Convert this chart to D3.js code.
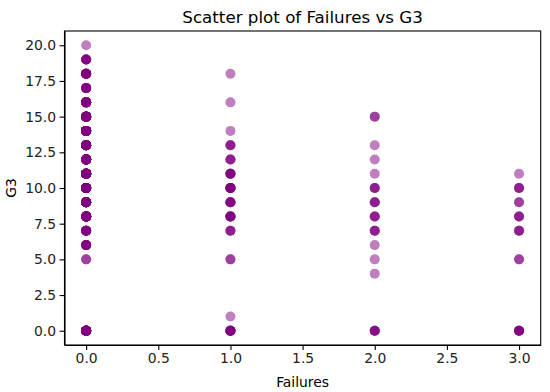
<head>
	<script src="https://d3js.org/d3.v7.min.js"></script>
	<style type="text/css">
		body { margin: 0; background: white; }
		text { font-family: "DejaVu Sans", sans-serif; fill: black; }
		.axis path, .axis line { stroke: black; stroke-width: 1.1; }
		.axis text { font-size: 13.9px; font-family: "DejaVu Sans", sans-serif; fill: #222; }
	</style>
</head>
<body>
	<script type="text/javascript">
		// G3 grades seen for each failures count, with how many students sit on each spot
		const failures = [0, 1, 2, 3]
		const g3Fail0 = [0, 5, 6, 7, 8, 9, 10, 11, 12, 13, 14, 15, 16, 17, 18, 19, 20]
		const nFail0  = [30, 2, 6, 8, 30, 25, 40, 40, 30, 25, 25, 30, 15, 6, 10, 5, 1]
		const g3Fail1 = [0, 1, 5, 7, 8, 9, 10, 11, 12, 13, 14, 16, 18]
		const nFail1  = [8, 1, 2, 3, 6, 5, 8, 5, 3, 3, 1, 1, 1]
		const g3Fail2 = [0, 4, 5, 6, 7, 8, 9, 10, 11, 12, 13, 15]
		const nFail2  = [4, 1, 1, 1, 3, 3, 3, 3, 1, 1, 1, 2]
		const g3Fail3 = [0, 5, 7, 8, 9, 10, 11]
		const nFail3  = [5, 2, 3, 3, 2, 3, 1]
		const xTicks = [0, 0.5, 1, 1.5, 2, 2.5, 3]
		const yTicks = [0, 2.5, 5, 7.5, 10, 12.5, 15, 17.5, 20]

		const groups = [[g3Fail0, nFail0], [g3Fail1, nFail1], [g3Fail2, nFail2], [g3Fail3, nFail3]]
		const points = []
		groups.forEach((g, i) => {
			g[0].forEach((v, j) => {
				for (let k = 0; k < g[1][j]; k++) points.push({failures: failures[i], g3: v})
			})
		})

		const margin = {top: 31, right: 9.3, bottom: 47, left: 64.5}
		const width = 550 - margin.left - margin.right,
			  height = 392 - margin.top - margin.bottom

		const svg = d3.select('body').append('svg')
				.attr('width', 550)
				.attr('height', 392)
			.append('g')
				.attr('transform', 'translate('+margin.left+','+margin.top+')')

		const x = d3.scaleLinear().domain([-0.15, 3.15]).range([0, width])
		const y = d3.scaleLinear().domain([-1, 21]).range([height, 0])

		svg.append('g').attr('class', 'dots')
			.selectAll('circle')
			.data(points)
			.enter()
			.append('circle')
				.attr('cx', d => x(d.failures))
				.attr('cy', d => y(d.g3))
				.attr('r', 5)
				.style('fill', 'purple')
				.style('fill-opacity', 0.5)

		svg.append('g').attr('class', 'axis')
			.attr('transform', 'translate(0,'+height+')')
			.call(d3.axisBottom(x).tickValues(xTicks).tickFormat(d3.format('.1f')).tickSizeInner(4.9).tickSizeOuter(0).tickPadding(3.5))
		svg.append('g').attr('class', 'axis')
			.call(d3.axisLeft(y).tickValues(yTicks).tickFormat(d3.format('.1f')).tickSizeInner(4.9).tickSizeOuter(0).tickPadding(3.5))

		// frame
		svg.append('rect')
			.attr('width', width).attr('height', height)
			.style('fill', 'none').style('stroke', 'black').style('stroke-width', 1.1)

		svg.append('text')
			.attr('x', width/2).attr('y', -8.3)
			.attr('text-anchor', 'middle')
			.style('font-size', '16.7px')
			.text('Scatter plot of Failures vs G3')

		svg.append('text')
			.attr('x', width/2).attr('y', height + 41.5)
			.attr('text-anchor', 'middle')
			.style('font-size', '13.9px')
			.text('Failures')

		svg.append('text')
			.attr('transform', 'translate('+(-49)+','+(height/2)+') rotate(-90)')
			.attr('text-anchor', 'middle')
			.style('font-size', '13.9px')
			.text('G3')
	</script>
</body>
